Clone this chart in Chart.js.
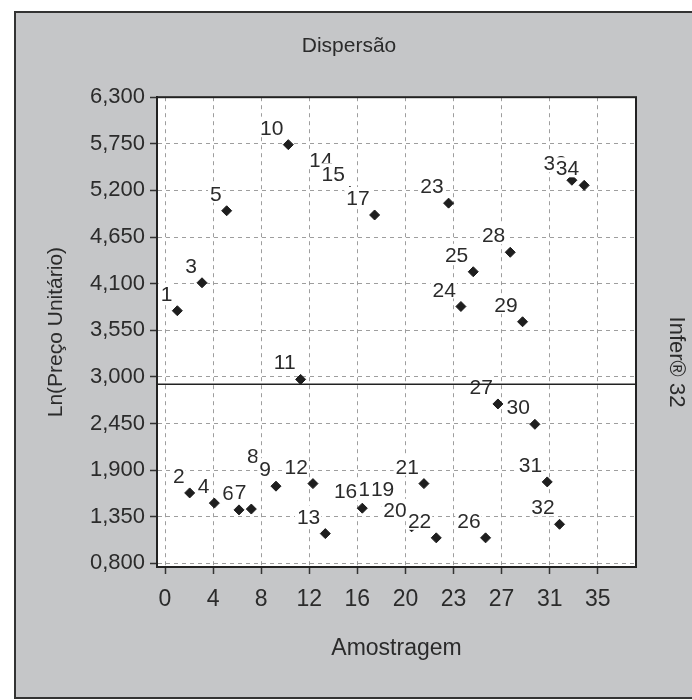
<!DOCTYPE html>
<html>
<head>
<meta charset="utf-8">
<script src="https://cdn.jsdelivr.net/npm/chart.js@4/dist/chart.umd.min.js"></script>
<style>
  html, body { margin: 0; padding: 0; background: #fff; }
  body { width: 692px; height: 700px; position: relative; overflow: hidden; }
  .frame {
    position: absolute; left: 14px; top: 11px; width: 676px; height: 684px;
    background: #c5c6c8; border: 2px solid #333;
  }
  canvas { position: absolute; left: 0; top: 0; }
</style>
</head>
<body>
<div class="frame"></div>
<canvas id="chart" width="692" height="700"></canvas>
<script>
// sample number (Amostragem) and Ln(Preço Unitário)
const SAMPLE_IDS = [1, 2, 3, 4, 5, 6, 7, 8, 9, 10, 11, 12, 13, 14, 15, 16, 17,
  18, 19, 20, 21, 22, 23, 24, 25, 26, 27, 28, 29, 30, 31, 32, 33, 34];
const LN_PRICE = [3.78, 1.63, 4.11, 1.51, 4.96, 1.43, 1.44, 1.87, 1.71, 5.74,
  2.97, 1.74, 1.15, 5.36, 5.19, 1.45, 4.91, 1.47, 1.47, 1.23, 1.74, 1.10, 5.05,
  3.83, 4.24, 1.10, 2.68, 4.47, 3.65, 2.44, 1.76, 1.26, 5.32, 5.26];

const X_TICKS = [0, 3.9, 7.8, 11.7, 15.6, 19.5, 23.4, 27.3, 31.2, 35.1];
const Y_TICKS = [0.8, 1.35, 1.9, 2.45, 3.0, 3.55, 4.1, 4.65, 5.2, 5.75, 6.3];

const FONT = '"Liberation Sans", Arial, sans-serif';
const INK = "#2b2b2b";

Chart.defaults.font.family = FONT;
Chart.defaults.color = INK;

const mean = LN_PRICE.reduce((a, b) => a + b, 0) / LN_PRICE.length;

const plotDecor = {
  id: "plotDecor",
  beforeDraw(chart) {
    const { ctx, chartArea: a } = chart;
    ctx.save();
    ctx.fillStyle = "#fff";
    ctx.fillRect(a.left, a.top, a.right - a.left, a.bottom - a.top);
    ctx.restore();
  },
  afterDatasetsDraw(chart) {
    const { ctx, chartArea: a } = chart;
    const meta = chart.getDatasetMeta(0);
    ctx.save();
    // point labels, white box behind each (later ones hide earlier ones)
    ctx.font = "21px " + FONT;
    ctx.textAlign = "right";
    ctx.textBaseline = "alphabetic";
    meta.data.forEach((pt, i) => {
      const text = String(SAMPLE_IDS[i]);
      const w = ctx.measureText(text).width;
      const right = pt.x - 5;
      const base = pt.y - 10;
      ctx.fillStyle = "#fff";
      ctx.fillRect(right - w - 2, base - 18, w + 3, 20);
      ctx.fillStyle = INK;
      ctx.fillText(text, right, base);
    });
    // mean line
    const my = chart.scales.y.getPixelForValue(mean);
    ctx.strokeStyle = "#222";
    ctx.lineWidth = 1.5;
    ctx.beginPath();
    ctx.moveTo(a.left, my);
    ctx.lineTo(a.right, my);
    ctx.stroke();
    ctx.restore();
  },
  afterDraw(chart) {
    const { ctx, chartArea: a } = chart;
    ctx.save();
    ctx.strokeStyle = "#222";
    ctx.lineWidth = 2;
    ctx.strokeRect(a.left, a.top, a.right - a.left, a.bottom - a.top);
    // side caption
    ctx.translate(676, 362);
    ctx.rotate(Math.PI / 2);
    ctx.font = "22px " + FONT;
    ctx.fillStyle = INK;
    ctx.textAlign = "center";
    ctx.textBaseline = "middle";
    ctx.fillText("Infer® 32", 0, 0);
    ctx.restore();
  },
};

const gridStyle = {
  color: "rgba(0,0,0,0.38)",
  lineWidth: 1,
  tickLength: 7,
  tickColor: "#333",
  tickWidth: 1.5,
};

new Chart(document.getElementById("chart"), {
  type: "scatter",
  data: {
    datasets: [{
      label: "Ln(Preço Unitário)",
      data: SAMPLE_IDS.map((id, i) => ({ x: id, y: LN_PRICE[i] })),
      pointStyle: "rectRot",
      pointRadius: 5,
      backgroundColor: "#1e1e1e",
      borderColor: "#1e1e1e",
      borderWidth: 1,
    }],
  },
  options: {
    responsive: false,
    animation: false,
    layout: { padding: { left: 14, top: 11, right: 8, bottom: 3 } },
    plugins: {
      legend: { display: false },
      tooltip: { enabled: false },
      title: {
        display: true,
        text: "Dispersão",
        color: INK,
        font: { size: 21, weight: "normal" },
        padding: { top: 23, bottom: 38 },
      },
    },
    scales: {
      x: {
        type: "linear",
        min: -0.65,
        max: 38.2,
        afterBuildTicks: (s) => { s.ticks = X_TICKS.map((v) => ({ value: v })); },
        afterFit: (s) => { s.height = 130; },
        ticks: {
          autoSkip: false,
          padding: 12,
          color: INK,
          font: { size: 23 },
          callback: (v) => String(Math.round(v)),
        },
        grid: gridStyle,
        border: { color: "#222", width: 2, dash: [4, 4] },
        title: {
          display: true,
          text: "Amostragem",
          color: INK,
          font: { size: 23 },
          padding: { top: 0, bottom: 35 },
        },
      },
      y: {
        type: "linear",
        min: 0.756,
        max: 6.3,
        afterBuildTicks: (s) => { s.ticks = Y_TICKS.map((v) => ({ value: v })); },
        afterFit: (s) => { s.width = 143; },
        ticks: {
          autoSkip: false,
          padding: 5,
          color: INK,
          font: { size: 22 },
          callback: (v) => v.toFixed(3).replace(".", ","),
        },
        grid: gridStyle,
        border: { color: "#222", width: 2, dash: [4, 4] },
        title: {
          display: true,
          text: "Ln(Preço Unitário)",
          color: INK,
          font: { size: 21 },
          padding: { top: 30, bottom: 0 },
        },
      },
      y2: {
        type: "linear",
        position: "right",
        afterFit: (s) => { s.width = 48; },
        ticks: { display: false },
        grid: { display: false },
        border: { display: false },
      },
    },
  },
  plugins: [plotDecor],
});
</script>
</body>
</html>
